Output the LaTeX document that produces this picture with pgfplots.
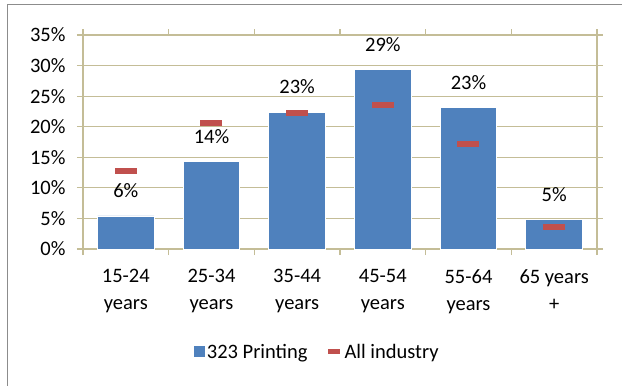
\documentclass[border=0pt]{standalone}
\usepackage{pgfplots}
\pgfplotsset{compat=1.18}
\usepackage{fontspec}
\setmainfont{Carlito}
\definecolor{barblue}{HTML}{4F81BD}
\definecolor{markred}{HTML}{C0504D}
\definecolor{gridtan}{HTML}{C4BD97}
\begin{document}
\begin{tikzpicture}
\begin{axis}[
  at={(0pt,0pt)}, anchor=south west,
  scale only axis, width=514pt, height=214pt,
  xmin=-0.5, xmax=5.5, ymin=0, ymax=35,
  clip=false,
  /pgf/number format/assume math mode=true,
  ytick={0,5,...,35},
  yticklabel={\pgfmathprintnumber{\tick}\%},
  xtick={0,...,5},
  xticklabels={{15-24\\years},{25-34\\years},{35-44\\years},{45-54\\years},{55-64\\years},{65 years\\+}},
  xticklabel style={align=center, yshift=-11pt},
  yticklabel style={xshift=-8pt},
  tick label style={font=\fontsize{20.5}{27}\selectfont},
  major x tick style={draw=none},
  minor xtick={-0.5,0.5,...,5.5},
  tick align=outside,
  major tick length=6pt, minor tick length=6pt,
  tick style={gridtan, line width=1.2pt},
  axis line style={gridtan, line width=1.2pt},
  ymajorgrids, grid style={gridtan, line width=1.2pt},
  legend style={at={(0.456,-0.48)}, anchor=center, draw=none, legend columns=2,
    font=\fontsize{20.5}{24}\selectfont,
    /tikz/every even column/.append style={column sep=16pt}},
]
\addplot[ybar, bar width=0.66, fill=barblue, draw=white, line width=0.8pt,
  point meta=explicit symbolic,
  nodes near coords={\pgfplotspointmeta\%},
  every node near coord/.append style={anchor=center, yshift=25pt, black, font=\fontsize{20.5}{24}\selectfont},
  legend image code/.code={\fill[barblue] (0pt,-5pt) rectangle (10pt,5pt);}]
  table[meta=lab] {
x y lab
0 5.4 6
1 14.3 14
2 22.4 23
3 29.3 29
4 23.1 23
5 4.8 5
};
\addlegendentry{323 Printing}
\addplot[only marks, mark=-, mark size=11pt, mark options={line width=6pt, draw=markred},
  legend image code/.code={\draw[markred, line width=5pt] (0pt,0pt) -- (12pt,0pt);}]
  table {
x y
0 12.8
1 20.6
2 22.3
3 23.6
4 17.2
5 3.6
};
\addlegendentry{All industry}
\end{axis}
\draw[black!45, line width=1pt] (-75pt,-137pt) -- (-75pt,244pt) -- (539pt,244pt);
\pgfresetboundingbox
\path (-83pt,-137pt) rectangle (539pt,249pt);
\end{tikzpicture}
\end{document}
